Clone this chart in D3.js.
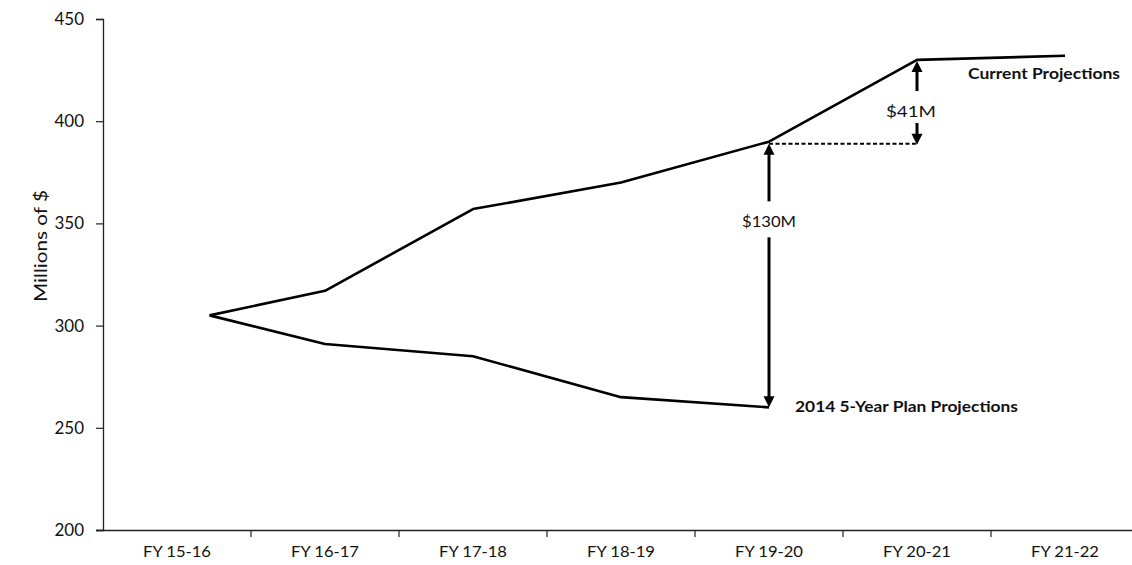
<!DOCTYPE html>
<html>
<head>
<meta charset="utf-8">
<script src="https://cdn.jsdelivr.net/npm/d3@7"></script>
<style>
  html, body { margin: 0; padding: 0; background: #fff; }
  svg { display: block; }
  text { font-family: Lato, "Liberation Sans", Arial, sans-serif; fill: #111; }
</style>
</head>
<body>
<svg id="chart" width="1132" height="565"></svg>
<script>
// ---- data ----
const categories = ["FY 15-16", "FY 16-17", "FY 17-18", "FY 18-19", "FY 19-20", "FY 20-21", "FY 21-22"];
const currentPos = [0.22, 1, 2, 3, 4, 5, 6];
const currentValues = [305, 317, 357, 370, 390, 430, 432];
const planPos = [0.22, 1, 2, 3, 4];
const planValues = [305, 291, 285, 265, 260];
const yTicks = [200, 250, 300, 350, 400, 450];
const gapBaseline = 389;   // FY 19-20 current value carried forward (dotted line)
const seriesLabels = ["Current Projections", "2014 5-Year Plan Projections"];
const gapLabels = ["$130M", "$41M"];

// ---- layout ----
const svg = d3.select("#chart");
const mLeft = 103, mRight = 1139, mTop = 19, mBottom = 530;
const FONT = "Lato, 'Liberation Sans', Arial, sans-serif";

const xBand = d3.scaleBand().domain(categories).range([mLeft, mRight]).padding(0);
const xPos = d3.scaleLinear().domain([-0.5, categories.length - 0.5]).range([mLeft, mRight]);
const y = d3.scaleLinear().domain([200, 450]).range([mBottom, mTop]);

// y axis
const yAxis = svg.append("g")
  .attr("transform", `translate(${mLeft},0)`)
  .call(d3.axisLeft(y).tickValues(yTicks).tickSize(7).tickPadding(12));
yAxis.select(".domain").attr("stroke", "#222").attr("stroke-width", 1.3);
yAxis.selectAll(".tick line").attr("stroke", "#222").attr("stroke-width", 1.2);
yAxis.selectAll(".tick text").style("font-size", "17px").attr("fill", "#111")
  .style("font-family", FONT);

// x axis (labels centered in bands, ticks between bands)
const xAxis = svg.append("g")
  .attr("transform", `translate(0,${mBottom})`)
  .call(d3.axisBottom(xBand).tickSize(0).tickPadding(16));
xAxis.select(".domain").attr("stroke", "#222").attr("stroke-width", 1.3)
  .attr("d", `M${mLeft - 7},0.5H${mRight}`);
xAxis.selectAll(".tick text").style("font-size", "15px").attr("fill", "#111")
  .style("font-family", FONT)
  .attr("textLength", 68).attr("lengthAdjust", "spacingAndGlyphs");
xAxis.selectAll(".tickmark")
  .data(categories.slice(1))
  .enter().append("line")
  .attr("class", "tickmark")
  .attr("x1", d => xBand(d)).attr("x2", d => xBand(d))
  .attr("y1", 0).attr("y2", 7)
  .attr("stroke", "#222").attr("stroke-width", 1.2);

// y axis title
svg.append("text")
  .attr("transform", `translate(47,246) rotate(-90)`)
  .attr("text-anchor", "middle")
  .style("font-size", "18px")
  .attr("textLength", 112).attr("lengthAdjust", "spacingAndGlyphs")
  .text("Millions of $");

// lines
const line = d3.line().x(d => xPos(d[0])).y(d => y(d[1]));
const currentData = currentPos.map((p, i) => [p, currentValues[i]]);
const planData = planPos.map((p, i) => [p, planValues[i]]);

[currentData, planData].forEach(data => {
  svg.append("path")
    .datum(data)
    .attr("d", line)
    .attr("fill", "none")
    .attr("stroke", "#000")
    .attr("stroke-width", 2.6)
    .attr("stroke-linejoin", "round");
});

// dotted carried-forward line
svg.append("line")
  .attr("x1", xPos(4)).attr("x2", xPos(5))
  .attr("y1", y(gapBaseline)).attr("y2", y(gapBaseline))
  .attr("stroke", "#000").attr("stroke-width", 2)
  .attr("stroke-dasharray", "4,2.5");

// arrows
function arrow(x, yFrom, yTo) {
  const dir = yTo > yFrom ? 1 : -1;
  const headLen = 11, headW = 5.5;
  svg.append("line")
    .attr("x1", x).attr("x2", x)
    .attr("y1", yFrom).attr("y2", yTo - dir * headLen + dir * 1)
    .attr("stroke", "#000").attr("stroke-width", 3);
  svg.append("path")
    .attr("d", `M${x},${yTo}L${x - headW},${yTo - dir * headLen}L${x + headW},${yTo - dir * headLen}Z`)
    .attr("fill", "#000");
}

// $130M gap at FY 19-20
const x1920 = xPos(4);
arrow(x1920, y(351) - 20, y(currentValues[4]) + 2);
arrow(x1920, y(351) + 16, y(planValues[4]));
svg.append("text")
  .attr("x", x1920).attr("y", y(351) + 6)
  .attr("text-anchor", "middle")
  .style("font-size", "16px")
  .attr("textLength", 54).attr("lengthAdjust", "spacingAndGlyphs")
  .text(gapLabels[0]);

// $41M gap at FY 20-21
const x2021 = xPos(5);
arrow(x2021, y(405) - 20, y(currentValues[5]) + 1);
arrow(x2021, y(405) + 12, y(gapBaseline) + 1);
svg.append("text")
  .attr("x", x2021 - 6).attr("y", y(405) + 6)
  .attr("text-anchor", "middle")
  .style("font-size", "16px")
  .attr("textLength", 50).attr("lengthAdjust", "spacingAndGlyphs")
  .text(gapLabels[1]);

// series labels
svg.append("text")
  .attr("x", 968).attr("y", y(currentValues[6]) + 23)
  .style("font-size", "15.5px").style("font-weight", "bold")
  .attr("textLength", 152).attr("lengthAdjust", "spacingAndGlyphs")
  .text(seriesLabels[0]);
svg.append("text")
  .attr("x", 795).attr("y", y(planValues[4]) + 5)
  .style("font-size", "15.5px").style("font-weight", "bold")
  .attr("textLength", 223).attr("lengthAdjust", "spacingAndGlyphs")
  .text(seriesLabels[1]);
</script>
</body>
</html>
